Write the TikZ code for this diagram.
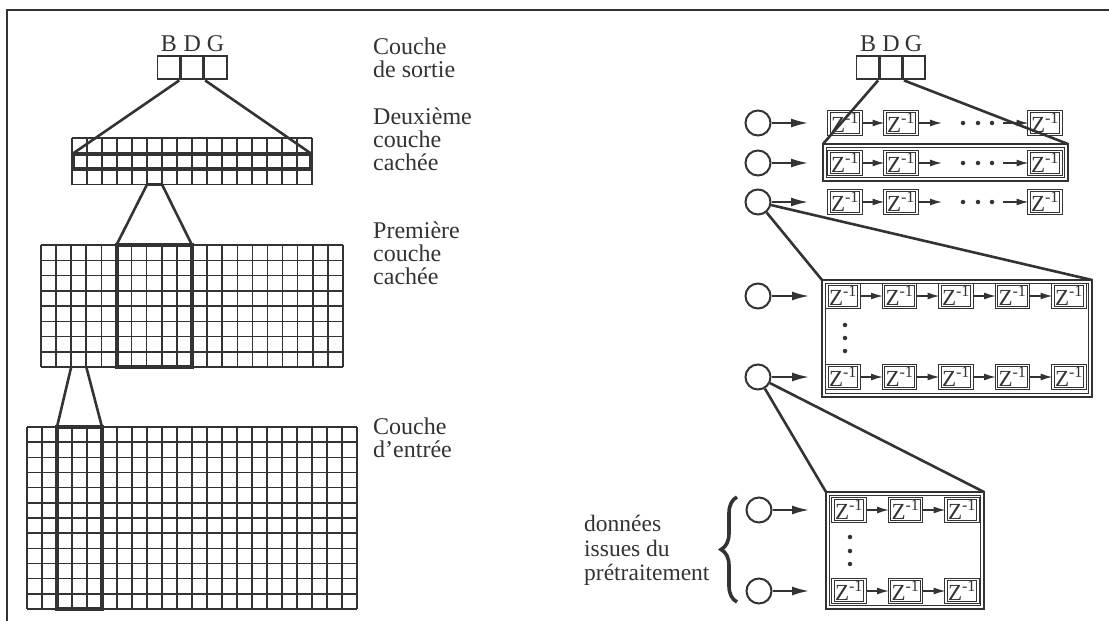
\documentclass[tikz,border=0pt]{standalone}
\usepackage{fontspec}
\setmainfont{Liberation Serif}
\usetikzlibrary{arrows.meta,decorations.pathreplacing}
\definecolor{ink}{HTML}{333333}
\newcommand\lblfont{\fontsize{24}{23}\selectfont}
\newcommand\prefont{\fontsize{23.5}{24.5}\selectfont}
\newcommand\zfont{\fontsize{23}{23}\selectfont}
\newcommand\zl{Z\textsuperscript{-1}}
\begin{document}
\begin{tikzpicture}[x=1pt,y=-1pt,
 gridl/.style={draw=ink,line width=1.5pt},
 boldl/.style={draw=ink,line width=4pt},
 midl/.style={draw=ink,line width=2.3pt},
 conn/.style={draw=ink,line width=2.6pt},
 outbox/.style={rectangle,draw=ink,line width=1.4pt,minimum width=23pt,minimum height=23pt,inner sep=0pt},
 letter/.style={font=\lblfont,text=ink,inner sep=0pt,anchor=base},
 lbl/.style={font=\lblfont,text=ink,inner sep=0pt,anchor=north west,align=left},
 zbox/.style={rectangle,draw=ink,double,double distance=1.1pt,line width=1pt,minimum width=32pt,minimum height=23pt,inner sep=0pt,font=\zfont,text=ink},
 neuron/.style={circle,draw=ink,line width=2pt,minimum size=25pt,inner sep=0pt},
 arr/.style={draw=ink,line width=1.8pt,-{Latex[length=17pt,width=9pt]}},
 sarr/.style={draw=ink,line width=1.4pt,-{Latex[length=12pt,width=7pt]}},
 dot/.style={circle,fill=ink,minimum size=4.5pt,inner sep=0pt},
 frameb/.style={draw=ink,line width=2.8pt},
 outer/.style={draw=ink,line width=2.8pt},
 inner/.style={draw=ink,line width=1pt},
]
\useasboundingbox (0,0) rectangle (1109,621);
% frame (top and left edges)
\draw[frameb] (1109,10) -- (7,10) -- (7,621);

% ---------------- left network ----------------
% output layer
\node[outbox] (oL1) at (169,67.5) {};
\node[outbox] (oL3) at (215.5,67.5) {};
\node[outbox,line width=2.8pt] (oL2) at (192.2,67.5) {};
\node[letter] (bL1) at (169,51) {B};
\node[letter] (bL2) at (192.2,51) {D};
\node[letter] (bL3) at (215.5,51) {G};

% second hidden layer: 16 x 3
\foreach \i in {0,...,16} \draw[gridl] (72+15*\i,138) -- (72+15*\i,184.5);
\foreach \j in {0,...,3} \draw[gridl] (72,138+15.5*\j) -- (312,138+15.5*\j);
\draw[midl] (147,138) rectangle (162,184.5);
\draw[boldl] (73,153.5) rectangle (311,169);
\coordinate (h2tl) at (73,153.5);
\coordinate (h2tr) at (311,153.5);
\coordinate (h2c1) at (147,184.5);
\coordinate (h2c2) at (162,184.5);
\draw[conn] (oL2.south west) -- (h2tl);
\draw[conn] (oL2.south east) -- (h2tr);

% first hidden layer: 20 x 8
\foreach \i in {0,...,20} \draw[gridl] (41+15.1*\i,245) -- (41+15.1*\i,367);
\foreach \j in {0,...,8} \draw[gridl] (41,245+15.25*\j) -- (343,245+15.25*\j);
\draw[midl] (71.2,245) rectangle (86.3,367);
\draw[boldl] (116.5,245) rectangle (192,367);
\coordinate (h1t1) at (116.5,245);
\coordinate (h1t2) at (192,245);
\coordinate (h1c1) at (71.2,367);
\coordinate (h1c2) at (86.3,367);
\draw[conn] (h2c1) -- (h1t1);
\draw[conn] (h2c2) -- (h1t2);

% input layer: 22 x 12
\foreach \i in {0,...,22} \draw[gridl] (27+15*\i,427) -- (27+15*\i,609);
\foreach \j in {0,...,12} \draw[gridl] (27,427+15.1667*\j) -- (357,427+15.1667*\j);
\draw[boldl] (57,427) rectangle (102,609);
\coordinate (int1) at (57,427);
\coordinate (int2) at (102,427);
\draw[conn] (h1c1) -- (int1);
\draw[conn] (h1c2) -- (int2);

% labels
\node[lbl] (Ls) at (373,38) {Couche\\de sortie};
\node[lbl] (Lh2) at (373,108) {Deuxième\\couche\\cachée};
\node[lbl] (Lh1) at (373,222) {Première\\couche\\cachée};
\node[lbl] (Li) at (373,418) {Couche\\d’entrée};

% ---------------- right network ----------------
\node[outbox] (oR1) at (868,67.5) {};
\node[outbox] (oR3) at (913.5,67.5) {};
\node[outbox,line width=2.8pt] (oR2) at (891,67.5) {};
\node[letter] (bR1) at (868,51) {B};
\node[letter] (bR2) at (891,51) {D};
\node[letter] (bR3) at (913.5,51) {G};

% row-2 frame
\coordinate (r2tl) at (823,144);
\coordinate (r2tr) at (1068,144);
\coordinate (r2br) at (1068,181);
\draw[outer] (r2tl) rectangle (r2br);
\draw[inner] (826.5,147.5) rectangle (1064.5,177.5);

\foreach \r/\y in {1/123,2/163,3/202} {
  \node[neuron] (n\r) at (758,\y) {};
  \coordinate (a\r) at (808,\y);
  \node[zbox] (za\r) at (845,\y) {\zl};
  \node[zbox] (zb\r) at (901,\y) {\zl};
  \node[zbox] (zc\r) at (1045,\y) {\zl};
  \coordinate (e\r) at (942,\y);
  \coordinate (s\r) at (1003,\y);
  \node[dot] (da\r) at (963,\y) {};
  \node[dot] (db\r) at (978,\y) {};
  \node[dot] (dc\r) at (992,\y) {};
  \draw[arr] (n\r) -- (a\r);
  \draw[sarr] (za\r) -- (zb\r);
  \draw[sarr] (zb\r) -- (e\r);
  \draw[sarr] (s\r) -- (zc\r);
}
\draw[conn] (oR2.south west) -- (r2tl);
\draw[conn] (oR2.south east) -- (r2tr);

% middle frame (5 delays)
\coordinate (mtl) at (822,280);
\coordinate (mtr) at (1092,280);
\coordinate (mbr) at (1092,397);
\draw[outer] (mtl) rectangle (mbr);
\draw[inner] (825.5,283.5) rectangle (1088.5,393.5);
\foreach \k/\y in {A/296,B/377} {
  \node[neuron] (m\k) at (758,\y) {};
  \coordinate (ma\k) at (809,\y);
  \draw[arr] (m\k) -- (ma\k);
  \foreach \c/\x in {1/843,2/899.5,3/956,4/1012.5,5/1069}
    \node[zbox] (m\k\c) at (\x,\y) {\zl};
  \foreach \p/\c in {1/2,2/3,3/4,4/5}
    \draw[sarr] (m\k\p) -- (m\k\c);
}
\node[dot] (mv1) at (845,325) {};
\node[dot] (mv2) at (845,338) {};
\node[dot] (mv3) at (845,351) {};
\draw[conn] (n3) -- (mtl);
\draw[conn] (n3) -- (mtr);

% bottom frame (3 delays)
\coordinate (btl) at (826,492);
\coordinate (btr) at (984,492);
\coordinate (bbr) at (984,609);
\draw[outer] (btl) rectangle (bbr);
\draw[inner] (829.5,495.5) rectangle (980.5,605.5);
\foreach \k/\y in {C/510,D/591} {
  \node[neuron] (b\k) at (759,\y) {};
  \coordinate (ba\k) at (809,\y);
  \draw[arr] (b\k) -- (ba\k);
  \foreach \c/\x in {1/849,2/905.5,3/962}
    \node[zbox] (b\k\c) at (\x,\y) {\zl};
  \foreach \p/\c in {1/2,2/3}
    \draw[sarr] (b\k\p) -- (b\k\c);
}
\node[dot] (bv1) at (850,537) {};
\node[dot] (bv2) at (850,551) {};
\node[dot] (bv3) at (850,564) {};
\draw[conn] (mB) -- (btl);
\draw[conn] (mB) -- (btr);

% brace and label
\coordinate (br1) at (737,602);
\coordinate (br2) at (737,497);
\draw[draw=ink,line width=3.6pt,decorate,decoration={brace,amplitude=16pt}] (br1) -- (br2);
\node[lbl,font=\prefont] (pre) at (584,515) {données\\issues du\\prétraitement};
\end{tikzpicture}
\end{document}
